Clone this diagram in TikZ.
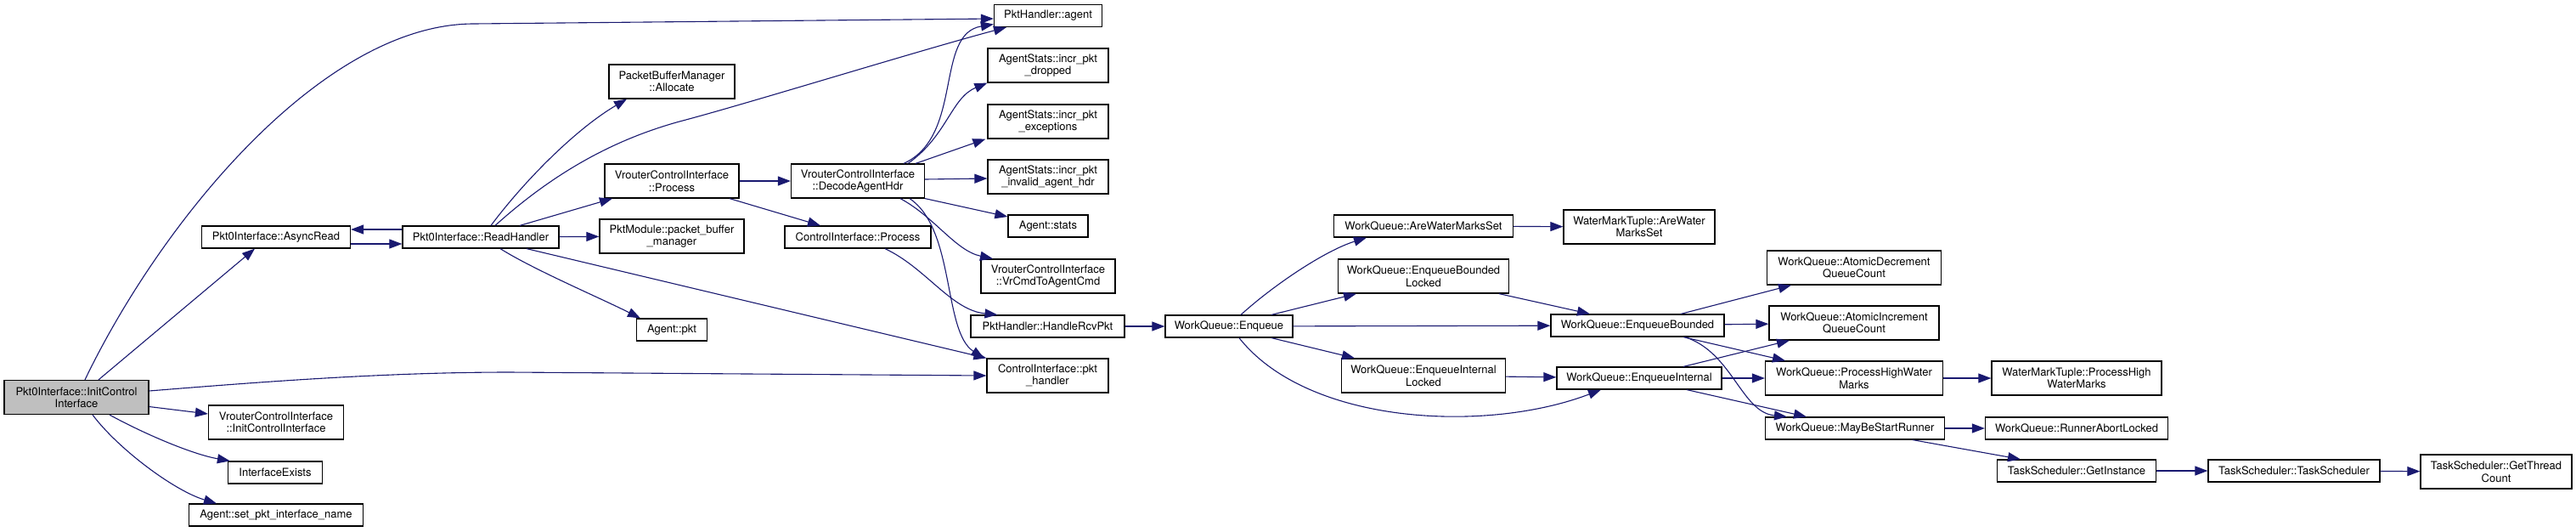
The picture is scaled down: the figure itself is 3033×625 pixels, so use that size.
\documentclass[tikz,border=0pt]{standalone}
\usepackage{fontspec}
\setmainfont{TeX Gyre Heros}
\usepackage{xcolor}
\definecolor{edgeblue}{HTML}{191970}
\definecolor{rootgray}{HTML}{BFBFBF}
\usetikzlibrary{arrows.meta}

\begin{document}
\begin{tikzpicture}[x=1pt, y=-1pt,
  fn/.style={draw=black, line width=1.2pt, fill=white, inner sep=0pt, align=center, font=\fontsize{13}{14.5}\selectfont},
  one/.style={fn, minimum height=26pt},
  two/.style={fn, minimum height=40pt},
  call/.style={draw=edgeblue, line width=1.1pt, -{Triangle[length=15pt, width=11pt]}}]
  \useasboundingbox (0,0) rectangle (3033,625);
  \node[two, fill=rootgray, minimum width=170pt] (init) at (90,467.5) {Pkt0Interface::InitControl\\Interface};
  \node[one, minimum width=175pt] (asyncread) at (325,279) {Pkt0Interface::AsyncRead};
  \node[one, minimum width=184pt] (readhandler) at (566,279) {Pkt0Interface::ReadHandler};
  \node[two, minimum width=159pt] (vcinit) at (325,497) {VrouterControlInterface\\::InitControlInterface};
  \node[one, minimum width=111pt] (ifexists) at (324,556) {InterfaceExists};
  \node[one, minimum width=205pt] (setname) at (325,606) {Agent::set\_pkt\_interface\_name};
  \node[one, minimum width=127pt] (agent) at (1234,18.5) {PktHandler::agent};
  \node[two, minimum width=148pt] (allocate) at (791,96) {PacketBufferManager\\::Allocate};
  \node[two, minimum width=158pt] (vcprocess) at (791,213) {VrouterControlInterface\\::Process};
  \node[two, minimum width=170pt] (pbm) at (791,278) {PktModule::packet\_buffer\\\_manager};
  \node[one, minimum width=83pt] (agentpkt) at (791,388) {Agent::pkt};
  \node[two, minimum width=157pt] (decode) at (1010,213) {VrouterControlInterface\\::DecodeAgentHdr};
  \node[one, minimum width=172pt] (ciprocess) at (1010,279) {ControlInterface::Process};
  \node[two, minimum width=142pt] (dropped) at (1234,77) {AgentStats::incr\_pkt\\\_dropped};
  \node[two, minimum width=142pt] (exceptions) at (1234,143) {AgentStats::incr\_pkt\\\_exceptions};
  \node[two, minimum width=142pt] (invalid) at (1234,208) {AgentStats::incr\_pkt\\\_invalid\_agent\_hdr};
  \node[one, minimum width=94pt] (stats) at (1234,266) {Agent::stats};
  \node[two, minimum width=158pt] (vrcmd) at (1234,325) {VrouterControlInterface\\::VrCmdToAgentCmd};
  \node[one, minimum width=181pt] (rcvpkt) at (1233.5,384) {PktHandler::HandleRcvPkt};
  \node[two, minimum width=143pt] (pkthandler) at (1233.5,442) {ControlInterface::pkt\\\_handler};
  \node[one, minimum width=150pt] (enqueue) at (1447,384) {WorkQueue::Enqueue};
  \node[one, minimum width=211pt] (arewms) at (1676,266) {WorkQueue::AreWaterMarksSet};
  \node[two, minimum width=201pt] (eblocked) at (1676,325) {WorkQueue::EnqueueBounded\\Locked};
  \node[two, minimum width=193pt] (eilocked) at (1676,442) {WorkQueue::EnqueueInternal\\Locked};
  \node[two, minimum width=178pt] (wmtare) at (1930,267) {WaterMarkTuple::AreWater\\MarksSet};
  \node[one, minimum width=204pt] (ebounded) at (1928,383) {WorkQueue::EnqueueBounded};
  \node[one, minimum width=194pt] (einternal) at (1930,445) {WorkQueue::EnqueueInternal};
  \node[two, minimum width=205pt] (atomdec) at (2183,315) {WorkQueue::AtomicDecrement\\QueueCount};
  \node[two, minimum width=200pt] (atominc) at (2183,380) {WorkQueue::AtomicIncrement\\QueueCount};
  \node[two, minimum width=209pt] (phwm) at (2183,445) {WorkQueue::ProcessHighWater\\Marks};
  \node[one, minimum width=211pt] (maybe) at (2184,504) {WorkQueue::MayBeStartRunner};
  \node[two, minimum width=200pt] (wmtphwm) at (2445,445) {WaterMarkTuple::ProcessHigh\\WaterMarks};
  \node[one, minimum width=215pt] (runabort) at (2445,504) {WorkQueue::RunnerAbortLocked};
  \node[one, minimum width=187pt] (getinst) at (2445,554) {TaskScheduler::GetInstance};
  \node[one, minimum width=202pt] (tsched) at (2701,554) {TaskScheduler::TaskScheduler};
  \node[two, minimum width=178pt] (threadcount) at (2939,555) {TaskScheduler::GetThread\\Count};
  \draw[call] ([xshift=10pt]init.north) .. controls (190,260) and (380,28) .. (558,28) -- ([yshift=-3.5pt]agent.west);
  \draw[call] ([xshift=26pt]init.north) -- ([xshift=-25pt]asyncread.south);
  \draw[call] ([yshift=7.5pt]init.east) .. controls (300,450) and (450,438) .. (600,438) -- (pkthandler.west);
  \draw[call] ([yshift=-11pt]init.east) -- ([yshift=10pt]vcinit.west);
  \draw[call] ([xshift=39pt]init.south) .. controls +(40,22) and +(-45,-8) .. ([xshift=3pt]ifexists.north west);
  \draw[call] ([xshift=19pt]init.south) .. controls +(30,40) and +(-50,-15) .. ([xshift=-70pt]setname.north);
  \draw[call] ([yshift=-8pt]asyncread.east) -- ([yshift=-8pt]readhandler.west);
  \draw[call] ([yshift=9pt]readhandler.west) -- ([yshift=9pt]asyncread.east);
  \draw[call] ([xshift=17pt]readhandler.north) .. controls (650,205) and (720,165) .. (800,143) .. controls (880,122) and (1080,60) .. ([xshift=-49pt]agent.south);
  \draw[call] ([xshift=12pt]readhandler.north) .. controls +(42,-56) and +(-58,34) .. ([xshift=-53pt]allocate.south);
  \draw[call] ([xshift=46pt]readhandler.north) -- ([xshift=-70pt]vcprocess.south);
  \draw[call] (readhandler) -- (pbm);
  \draw[call] ([xshift=54pt]readhandler.south) -- (pkthandler.north west);
  \draw[call] ([xshift=23pt]readhandler.south) .. controls +(40,25) and +(-50,-25) .. ([xshift=-37pt]agentpkt.north);
  \draw[call] (vcprocess) -- (decode);
  \draw[call] ([xshift=68pt]vcprocess.south) -- ([xshift=-44pt]ciprocess.north);
  \draw[call] ([xshift=54pt]decode.north) .. controls (1135,160) and (1100,40) .. ([yshift=-10pt]agent.west);
  \draw[call] ([xshift=59pt]decode.north) .. controls (1115,160) and (1120,115) .. (dropped.south west);
  \draw[call] ([xshift=68pt]decode.north) -- ([xshift=-2pt]exceptions.south west);
  \draw[call] ([yshift=2pt]decode.east) -- ([yshift=-2pt]invalid.west);
  \draw[call] (decode.south east) -- ([yshift=11pt]stats.west);
  \draw[call] ([xshift=50pt]decode.south) .. controls (1100,255) and (1125,295) .. ([xshift=-65pt]vrcmd.north);
  \draw[call] ([xshift=61pt]decode.south) .. controls (1125,270) and (1110,390) .. ([xshift=-3pt]pkthandler.north west);
  \draw[call] ([xshift=32pt]ciprocess.south) .. controls (1090,315) and (1120,365) .. ([xshift=-59pt]rcvpkt.north);
  \draw[call] (rcvpkt) -- (enqueue);
  \draw[call] ([xshift=14pt]enqueue.north) .. controls (1500,335) and (1560,295) .. ([xshift=-67pt]arewms.south);
  \draw[call] ([xshift=50pt]enqueue.north) -- ([xshift=-79pt]eblocked.south);
  \draw[call] (enqueue) -- (ebounded);
  \draw[call] ([xshift=50pt]enqueue.south) -- ([xshift=-81pt]eilocked.north);
  \draw[call] ([xshift=12pt]enqueue.south) .. controls (1540,500) and (1750,510) .. ([xshift=-45pt]einternal.south);
  \draw[call] (arewms) -- (wmtare);
  \draw[call] ([xshift=89pt]eblocked.south) -- ([xshift=-56pt]ebounded.north);
  \draw[call] (eilocked) -- (einternal);
  \draw[call] ([xshift=51pt]ebounded.north) -- ([xshift=-74pt]atomdec.south);
  \draw[call] (ebounded) -- (atominc);
  \draw[call] ([xshift=54pt]ebounded.south) -- ([xshift=-81pt]phwm.north);
  \draw[call] ([xshift=56pt]ebounded.south) .. controls (2040,415) and (2050,485) .. ([xshift=-80pt]maybe.north);
  \draw[call] ([xshift=52pt]einternal.north) -- ([xshift=-76pt]atominc.south);
  \draw[call] (einternal) -- (phwm);
  \draw[call] ([xshift=56pt]einternal.south) -- ([xshift=-57pt]maybe.north);
  \draw[call] (phwm) -- (wmtphwm);
  \draw[call] (maybe) -- (runabort);
  \draw[call] ([xshift=68pt]maybe.south) -- ([xshift=-66pt]getinst.north);
  \draw[call] (getinst) -- (tsched);
  \draw[call] (tsched) -- (threadcount);
\end{tikzpicture}
\end{document}
